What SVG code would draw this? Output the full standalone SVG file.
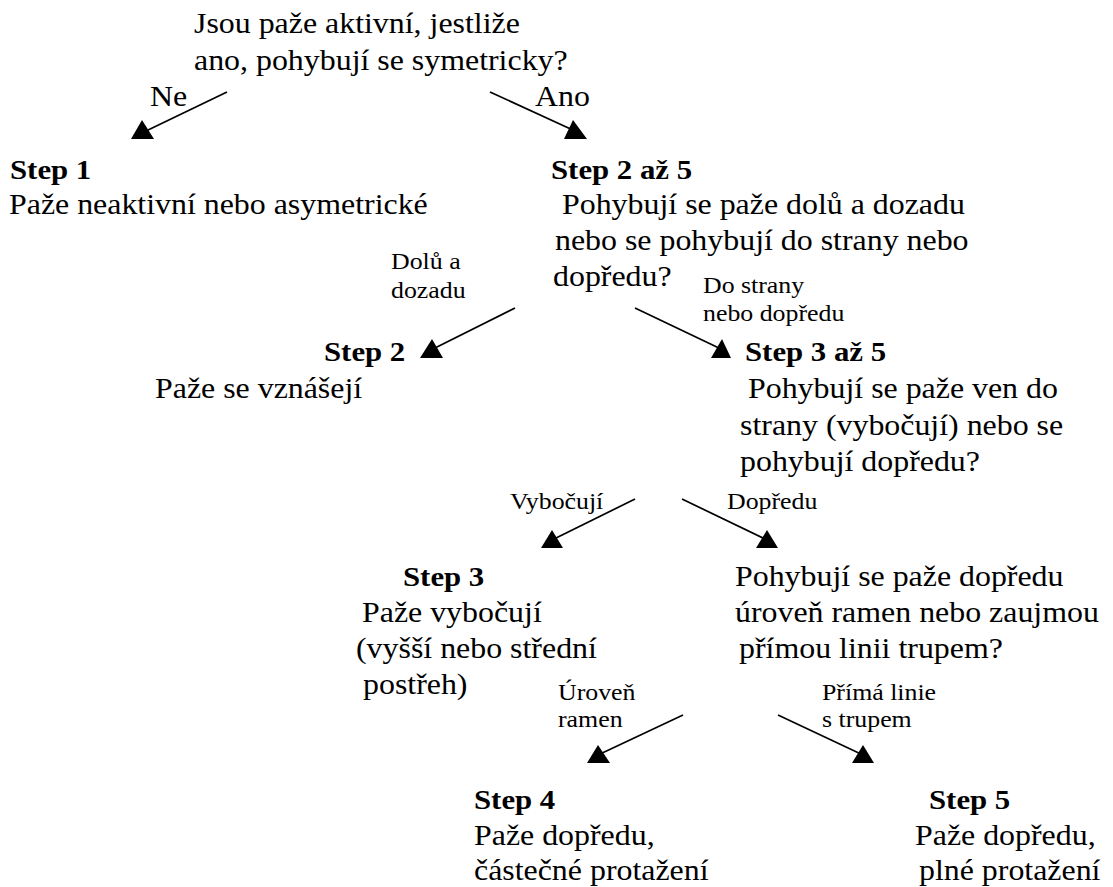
<svg xmlns="http://www.w3.org/2000/svg" width="1113" height="887" viewBox="0 0 1113 887">
<style>
text{font-family:"Liberation Serif","Times New Roman",serif;fill:#000}
.m{font-size:29px}
.b{font-size:28px;font-weight:bold}
.s{font-size:23.5px}
.ln{stroke:#000;stroke-width:1.7;fill:none}
.ah{fill:#000}
</style>
<rect width="1113" height="887" fill="#fff"/>
<g id="q1">
<text class="m" transform="translate(194 33) scale(1.1 1)">Jsou paže aktivní, jestliže</text>
<text class="m" transform="translate(194 70) scale(1.1 1)">ano, pohybují se symetricky?</text>
</g>
<g id="step1">
<text class="b" transform="translate(10 179) scale(1.1 1)">Step 1</text>
<text class="m" transform="translate(9 214) scale(1.1 1)">Paže neaktivní nebo asymetrické</text>
</g>
<g id="step2to5">
<text class="b" transform="translate(551 179) scale(1.1 1)">Step 2 až 5</text>
<text class="m" transform="translate(562 214) scale(1.1 1)">Pohybují se paže dolů a dozadu</text>
<text class="m" transform="translate(555 250) scale(1.1 1)">nebo se pohybují do strany nebo</text>
<text class="m" transform="translate(553 286) scale(1.1 1)">dopředu?</text>
</g>
<g id="step2">
<text class="b" transform="translate(324 361) scale(1.1 1)">Step 2</text>
<text class="m" transform="translate(155 398) scale(1.1 1)">Paže se vznášejí</text>
</g>
<g id="step3to5">
<text class="b" transform="translate(745 361) scale(1.1 1)">Step 3 až 5</text>
<text class="m" transform="translate(748 398) scale(1.1 1)">Pohybují se paže ven do</text>
<text class="m" transform="translate(740 435) scale(1.1 1)">strany (vybočují) nebo se</text>
<text class="m" transform="translate(740 471) scale(1.1 1)">pohybují dopředu?</text>
</g>
<g id="step3">
<text class="b" transform="translate(403 586) scale(1.1 1)">Step 3</text>
<text class="m" transform="translate(362 622) scale(1.1 1)">Paže vybočují</text>
<text class="m" transform="translate(356 658) scale(1.1 1)">(vyšší nebo střední</text>
<text class="m" transform="translate(363 694) scale(1.1 1)">postřeh)</text>
</g>
<g id="q4">
<text class="m" transform="translate(735 586) scale(1.1 1)">Pohybují se paže dopředu</text>
<text class="m" transform="translate(735 622) scale(1.1 1)">úroveň ramen nebo zaujmou</text>
<text class="m" transform="translate(739 658) scale(1.1 1)">přímou linii trupem?</text>
</g>
<g id="step4">
<text class="b" transform="translate(474 809) scale(1.1 1)">Step 4</text>
<text class="m" transform="translate(474 845) scale(1.1 1)">Paže dopředu,</text>
<text class="m" transform="translate(474 880) scale(1.1 1)">částečné protažení</text>
</g>
<g id="step5">
<text class="b" transform="translate(929 809) scale(1.1 1)">Step 5</text>
<text class="m" transform="translate(915 845) scale(1.1 1)">Paže dopředu,</text>
<text class="m" transform="translate(919 880) scale(1.1 1)">plné protažení</text>
</g>
<g id="connectors">
<line class="ln" x1="227" y1="92" x2="146" y2="131"/>
<polygon class="ah" points="131,139 154,139 142,120"/>
<line class="ln" x1="490" y1="92" x2="575" y2="131"/>
<polygon class="ah" points="564,139 587,139 573,120"/>
<line class="ln" x1="515" y1="308" x2="433" y2="349"/>
<polygon class="ah" points="420,358 443,358 432,339"/>
<line class="ln" x1="635" y1="308" x2="721" y2="349"/>
<polygon class="ah" points="711,358 731,358 722,339"/>
<line class="ln" x1="635" y1="499" x2="552" y2="540"/>
<polygon class="ah" points="541,548 563,548 552,530"/>
<line class="ln" x1="682" y1="499" x2="767" y2="540"/>
<polygon class="ah" points="756,548 778,548 767,530"/>
<line class="ln" x1="683" y1="715" x2="598" y2="755"/>
<polygon class="ah" points="587,763 610,763 598,745"/>
<line class="ln" x1="778" y1="715" x2="863" y2="755"/>
<polygon class="ah" points="852,763 874,763 863,745"/>
<text class="m" transform="translate(150 106) scale(1.1 1)">Ne</text>
<text class="m" transform="translate(535 106) scale(1.1 1)">Ano</text>
<text class="s" transform="translate(391 269) scale(1.1 1)">Dolů a</text>
<text class="s" transform="translate(391 298) scale(1.1 1)">dozadu</text>
<text class="s" transform="translate(703 293) scale(1.1 1)">Do strany</text>
<text class="s" transform="translate(703 321) scale(1.1 1)">nebo dopředu</text>
<text class="s" transform="translate(510 509) scale(1.1 1)">Vybočují</text>
<text class="s" transform="translate(727 509) scale(1.1 1)">Dopředu</text>
<text class="s" transform="translate(558 700) scale(1.1 1)">Úroveň</text>
<text class="s" transform="translate(558 727) scale(1.1 1)">ramen</text>
<text class="s" transform="translate(822 700) scale(1.1 1)">Přímá linie</text>
<text class="s" transform="translate(822 727) scale(1.1 1)">s trupem</text>
</g>
</svg>
